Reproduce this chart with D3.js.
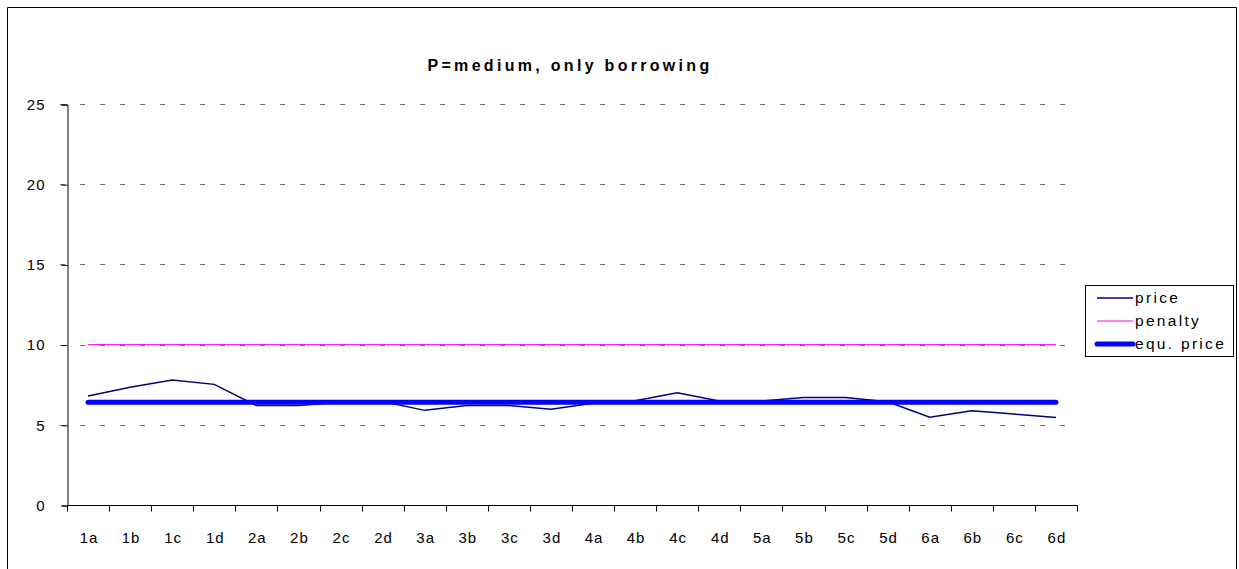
<!DOCTYPE html>
<html>
<head>
<meta charset="utf-8">
<script src="https://cdn.jsdelivr.net/npm/d3@7"></script>
<style>
  html, body { margin: 0; padding: 0; background: #fff; }
  svg { display: block; font-family: "Liberation Sans", Arial, sans-serif; }
</style>
</head>
<body>
<svg id="chart" width="1239" height="569"></svg>
<script>
// Categories along the x axis
const categories = ["1a","1b","1c","1d","2a","2b","2c","2d","3a","3b","3c","3d",
                    "4a","4b","4c","4d","5a","5b","5c","5d","6a","6b","6c","6d"];
// Observed price per period
const price = [6.8, 7.34, 7.8, 7.52, 6.2, 6.2, 6.4, 6.45, 5.9, 6.2, 6.2, 5.97,
               6.35, 6.5, 7.0, 6.48, 6.48, 6.7, 6.7, 6.44, 5.47, 5.88, 5.67, 5.45];
// Penalty level
const penalty = [10,10,10,10,10,10,10,10,10,10,10,10,10,10,10,10,10,10,10,10,10,10,10,10];
// Equilibrium price
const equPrice = [6.4,6.4,6.4,6.4,6.4,6.4,6.4,6.4,6.4,6.4,6.4,6.4,
                  6.4,6.4,6.4,6.4,6.4,6.4,6.4,6.4,6.4,6.4,6.4,6.4];
const yTicks = [0, 5, 10, 15, 20, 25];
const titleText = "P=medium, only borrowing";

const svg = d3.select("#chart");

// outer chart frame
svg.append("path")
  .attr("d", "M7.5,569 V7.5 H1236.5 V569")
  .attr("fill", "none").attr("stroke", "#000").attr("stroke-width", 1);

const plot = { left: 67, right: 1077, top: 104, bottom: 505 };

const x = d3.scaleBand().domain(categories).range([plot.left, plot.right]);
const y = d3.scaleLinear().domain([0, 25]).range([plot.bottom, plot.top]);
const cx = c => x(c) + x.bandwidth() / 2;

// title
svg.append("text")
  .attr("x", 570).attr("y", 71)
  .attr("text-anchor", "middle")
  .attr("font-size", 16).attr("font-weight", "bold")
  .attr("letter-spacing", 3.3)
  .text(titleText);

// dashed horizontal gridlines
svg.append("g").selectAll("line")
  .data(yTicks.filter(d => d > 0))
  .join("line")
  .attr("x1", plot.left - 7).attr("x2", plot.right)
  .attr("y1", d => Math.round(y(d)) + 0.5).attr("y2", d => Math.round(y(d)) + 0.5)
  .attr("stroke", "#6e6e6e").attr("stroke-width", 1)
  .attr("stroke-dasharray", "5,15");

// y axis
const yAxis = d3.axisLeft(y).tickValues(yTicks).tickSize(6).tickPadding(16);
const gy = svg.append("g").attr("transform", `translate(${plot.left + 0.5},0.5)`).call(yAxis);
gy.select(".domain").attr("stroke", "#000");
gy.selectAll(".tick line").attr("stroke", "#000");
gy.selectAll(".tick text").attr("font-size", 15).attr("fill", "#000")
  .attr("letter-spacing", 1)
  .attr("font-family", "Liberation Sans, Arial, sans-serif");

// x axis: ticks on category boundaries
const gx = svg.append("g").attr("transform", `translate(0.5,${plot.bottom + 0.5})`);
gx.append("line").attr("x1", plot.left).attr("x2", plot.right).attr("stroke", "#000");
const bounds = categories.map(c => x(c)).concat([plot.right]);
gx.selectAll("line.tk").data(bounds).join("line").attr("class", "tk")
  .attr("x1", d => Math.round(d)).attr("x2", d => Math.round(d))
  .attr("y1", 0).attr("y2", 6).attr("stroke", "#000");
gx.selectAll("text").data(categories).join("text")
  .attr("x", d => cx(d) + 0.5).attr("y", 37)
  .attr("text-anchor", "middle").attr("font-size", 15)
  .attr("letter-spacing", 1)
  .text(d => d);

// series lines
const line = vals => d3.line().x((d, i) => cx(categories[i])).y(d => y(d))(vals);

svg.append("path").attr("d", line(penalty))
  .attr("fill", "none").attr("stroke", "#FF00FF").attr("stroke-width", 1);
svg.append("path").attr("d", line(price))
  .attr("fill", "none").attr("stroke", "#000080").attr("stroke-width", 1.5);
svg.append("path").attr("d", line(equPrice))
  .attr("fill", "none").attr("stroke", "#0000FF").attr("stroke-width", 5)
  .attr("stroke-linecap", "round");

// legend
const legendItems = [
  { name: "price", color: "#000080", width: 1.5 },
  { name: "penalty", color: "#FF00FF", width: 1 },
  { name: "equ. price", color: "#0000FF", width: 5 }
];
const lg = svg.append("g");
lg.append("rect").attr("x", 1085.5).attr("y", 285.5).attr("width", 148).attr("height", 71)
  .attr("fill", "#fff").attr("stroke", "#000");
legendItems.forEach((d, i) => {
  const ly = 298 + i * 23;
  lg.append("line").attr("x1", 1097).attr("x2", 1133).attr("y1", ly).attr("y2", ly)
    .attr("stroke", d.color).attr("stroke-width", d.width)
    .attr("stroke-linecap", d.width > 2 ? "round" : "butt");
  lg.append("text").attr("x", 1135).attr("y", ly + 5)
    .attr("font-size", 15.5).attr("letter-spacing", 2.3)
    .text(d.name);
});
</script>
</body>
</html>
